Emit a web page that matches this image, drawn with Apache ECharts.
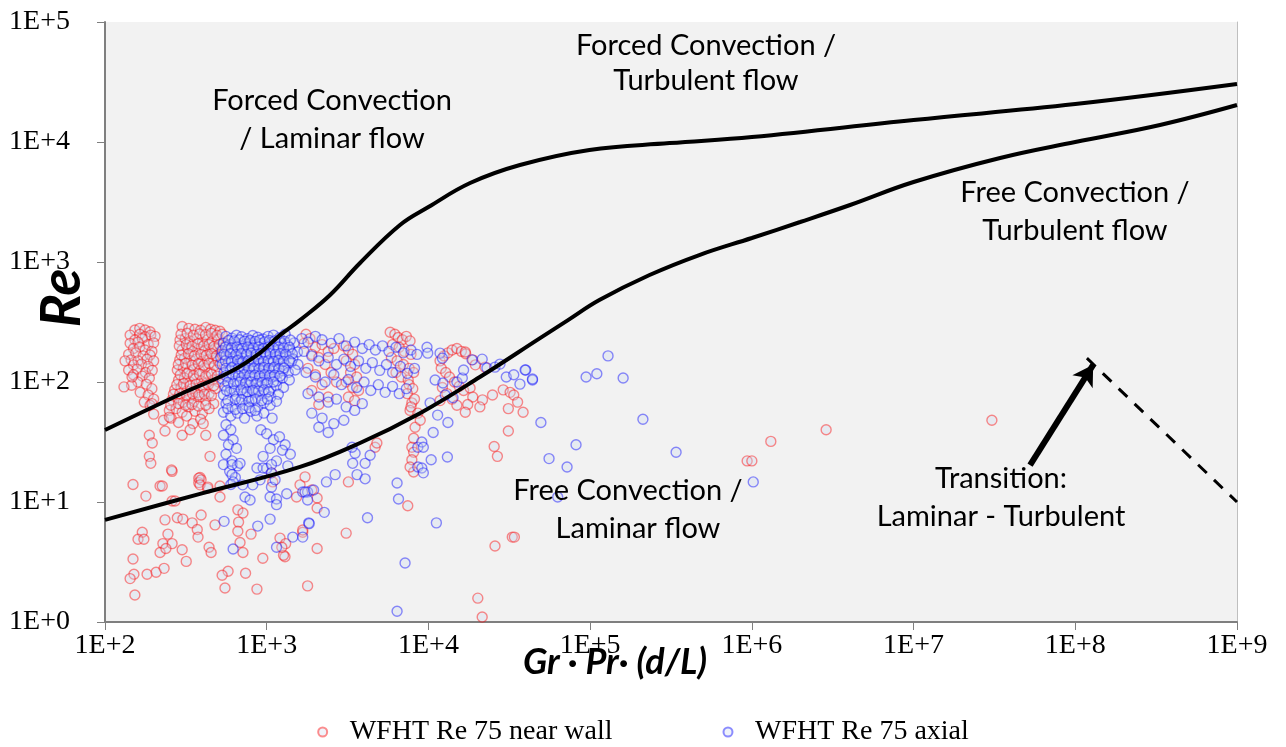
<!DOCTYPE html>
<html>
<head>
<meta charset="utf-8">
<script src="https://cdn.jsdelivr.net/npm/echarts@6/dist/echarts.min.js"></script>
<style>html,body{margin:0;padding:0;background:#fff;}#chart{width:1286px;height:747px;}</style>
</head>
<body>
<div id="chart"></div>
<script>
const xTickLabels = ['1E+2','1E+3','1E+4','1E+5','1E+6','1E+7','1E+8','1E+9'];
const yTickLabels = ['1E+0','1E+1','1E+2','1E+3','1E+4','1E+5'];
const seriesNames = ['WFHT Re 75 near wall','WFHT Re 75 axial'];

const nearWall = [
[153,271],[164,280],[177,271],[190,262],[143,246],[164,250],[177,238],[192,246],[204,240],[153,224],[170,230],[143,210],[160,215],[185,205],[200,212],[150,190],[164,196],[177,185],[195,180],[140,170],[155,175],[172,165],[190,168],[145,153],[160,150],[182,155],[200,150],[150,139],[168,141],[185,135],[140,126],[158,128],[178,120],[196,125],[150,115],[170,112],[188,108],[160,100],[180,96],[146,94],[195,88],[165,82],[185,78],[200,72],[175,68],[190,64],[133,150],[131,91],[147,110],[195,66],[200,54],[188,36],[196,31],[188,24],[192,21],
[300,290],[330,280],[360,275],[390,270],[420,285],[450,275],[480,270],[514,265],
[291,224],[313,230],[336,220],[370,230],[400,215],[430,225],[460,220],[500,228],[540,215],
[300,185],[325,190],[350,180],[380,188],[415,183],[446,178],[480,190],[520,182],
[290,153],[310,158],[340,150],[365,155],[395,148],[430,153],[465,158],[500,150],
[280,126],[305,130],[330,122],[355,128],[385,124],[415,131],[450,120],[490,126],
[285,104],[310,108],[335,100],[360,106],[395,102],[425,98],[465,104],[505,100],
[270,86],[295,90],[320,84],[345,88],[375,82],[410,86],[440,80],[480,88],
[260,71],[282,74],[305,68],[330,72],[355,69],[385,75],[420,70],[470,66],
[250,58],[275,60],[300,56],[328,62],[360,57],[400,55],[440,60],
[230,48],[256,50],[285,46],[320,52],[350,45],[390,49],
[295,250],[322,255],[352,245],[385,252],[418,248],[455,255],[492,245],[530,250],
[288,200],[318,205],[345,198],[375,208],[408,200],[440,205],[472,198],[510,205],[560,200],
[296,168],[328,172],[358,165],[392,170],[422,166],[456,172],[490,165],[530,170],
[284,140],[315,143],[346,138],[378,142],[408,138],[440,143],[475,137],[515,141],
[292,115],[322,117],[352,113],[384,116],[420,112],[456,116],[495,112],
[278,95],[306,97],[336,93],[366,96],[400,92],[435,95],[470,93],
[265,79],[290,80],[318,78],[348,80],[380,78],[412,79],[455,77],
[255,64],[285,66],[315,64],[345,65],[378,63],[420,64],
[250,51],[235,39],[300,36],[336,40],[405,45],[446,24],[420,36],[260,18],[387,16],[380,14.5],[430,13],
[258,18.5],[149,14],[179,11.2],[219,13.6],[226,13.6],[260,10.2],[271,10.2],[380,15.8],[393,15.3],[387,13.9],[433,13.3],
[235,7.1],[280,7.4],[303,7.2],[346,6.7],[372,5.9],[393,7.8],[170,5.6],[160,4.9],[174,4.9],[245,5.4],[228,4.5],[260,4.5],[219,3.8],[238,4.1],[300,4.0],[318,3.2],[149,3.35],[151,2.5],[143,2.3],[182,2.5],[207,2.6],[232,2.8],[153,1.68],[376,5.1],[440,4.2],[453,3.8],
[479,6.45],[514,13.6],[514,11],[663,8.6],[713,8.1],[670,6.8],[663,5.7],[800,5.4],[684,4.6],[713,3.8],[1208,5.0],[1310,4.5],[1297,3.5],[946,3.4],[577,2.65],[530,2.45],[740,2.55],[870,1.88],[552,1.92],[1670,5.6],[1790,2.0],[1607,13.9],[1530,11],[1070,17.5],[1090,14.7],[1270,3.6],[1240,4.2],
[1726,16.2],[1900,12.6],[2050,10.8],[2050,8.9],[1670,5.85],[2050,4.1],[3100,5.5],[3200,14.7],[7450,9.3],[4680,28.6],[4800,31],[7900,28.6],[8100,26],[7900,22.5],[8100,17.8],[7700,19.6],[8270,42],[8100,34],[7900,67],[7700,58],
[1750,250],[1850,230],[1700,210],[2000,195],[2200,205],[1900,170],[2100,160],[2400,180],[2600,190],[2300,140],[1800,130],[2000,115],[2500,120],[2200,95],[2700,100],[1900,85],[2400,75],[2100,65],
[3000,200],[3200,185],[3400,170],[3100,150],[3500,140],[3300,120],[3600,110],[3100,100],[3400,90],[3700,85],[3200,75],[3500,70],
[5800,260],[6200,250],[6500,235],[6900,225],[7300,240],[7700,220],[6000,205],[6600,195],[7100,180],[7800,170],[5900,160],[6400,150],[7000,140],[7600,130],[8100,120],[6300,120],[6800,110],[7500,104],
[7600,95],[8000,88],[7400,80],[8200,72],[7800,62],[8600,55],[8900,48],
[11800,150],[12500,165],[13200,175],[14000,185],[15000,190],[16000,180],[17000,172],[12000,130],[12800,120],[13500,110],[14500,100],[15500,92],[16500,85],[12200,90],[13000,80],[14000,72],[11800,70],[15000,64],
[16900,178],[18800,153],[19500,139],[22400,133],[18100,89],[18800,75],[17500,65],[16900,56],[21600,71],[24900,78],[29000,86],[32000,82],[33700,78],[35600,68],[31200,60],[38500,56],[20800,62],[31200,39],[25500,29],[26700,24],[33000,5.1],[34000,5.1],[25800,4.3],[20200,1.58],[21500,1.1],
[935000,22],[1000000,22],[1310000,32],[2880000,40],[30500000,48]
];

const axial = [
[560,240],[610,232],[650,245],[700,238],[760,230],[820,244],[880,236],[950,228],[1020,240],[1100,246],[1200,234],[1300,250],
[540,210],[590,205],[640,214],[690,200],[740,208],[800,212],[860,204],[920,210],[990,200],[1060,214],[1140,206],[1230,210],[1350,202],[1480,212],
[530,182],[575,188],[620,176],[670,186],[720,180],[780,190],[840,178],[900,185],[960,176],[1030,188],[1110,180],[1190,186],[1280,176],[1400,184],[1550,178],
[520,160],[560,166],[605,156],[655,162],[705,158],[760,168],[815,155],[870,164],[930,158],[1000,166],[1070,155],[1150,162],[1240,158],[1330,166],[1450,156],
[530,140],[580,146],[630,136],[680,144],[735,138],[790,146],[850,135],[910,142],[975,138],[1050,146],[1130,136],[1210,142],[1300,138],[1420,146],[1560,140],
[545,120],[595,126],[645,118],[700,124],[755,120],[815,128],[880,118],[945,125],[1010,120],[1090,127],[1170,118],[1260,124],[1360,120],[1500,126],
[530,106],[585,110],[640,102],[695,108],[750,104],[810,112],[870,102],[935,108],[1000,104],[1080,110],[1160,102],[1250,108],[1380,104],
[550,92],[600,88],[660,95],[720,90],[785,94],[850,88],[920,92],[990,96],[1060,88],[1150,93],[1270,90],
[540,78],[590,82],[650,76],[710,80],[770,75],[840,82],[910,77],[980,80],[1060,75],[1180,79],
[560,66],[610,62],[680,68],[740,64],[810,70],[880,62],[960,67],[1050,64],[1150,69],
[540,56],[600,52],[660,55],[730,50],[800,57],[870,52],[960,55],[1080,50],
[580,222],[630,220],[680,225],[730,218],[790,222],[850,218],[905,224],[970,216],[1040,222],[1120,220],[1200,222],[1290,218],[1400,224],
[555,195],[605,192],[655,196],[705,190],[765,196],[825,192],[890,196],[955,190],[1020,195],[1100,192],[1180,196],[1270,192],[1380,195],
[545,170],[595,172],[645,169],[695,172],[750,170],[800,174],[860,170],[915,172],[985,170],[1050,172],[1130,170],[1210,172],[1310,170],[1440,172],
[555,150],[605,148],[660,151],[710,147],[770,150],[830,148],[890,151],[955,148],[1020,150],[1100,148],[1180,151],[1270,148],[1380,150],
[560,130],[610,132],[665,129],[720,132],[775,130],[835,131],[900,129],[960,132],[1030,130],[1110,132],[1190,129],[1280,131],
[560,113],[615,115],[670,112],[725,115],[785,113],[845,114],[905,112],[970,115],[1045,113],[1120,114],[1210,112],
[575,99],[625,97],[685,100],[740,98],[800,100],[865,97],[935,99],[1010,98],[1100,100],
[565,85],[630,84],[695,86],[755,83],[820,85],[890,84],[960,86],[1030,83],
[575,70],[640,72],[700,71],[775,69],[850,72],[930,70],[1010,72],
[575,60],[640,59],[710,60],[780,61],[850,58],
[560,44],[600,40],[540,36],[620,33],[580,30],[650,28],[560,25],[610,22],[660,20],[590,18],[640,16],[600,14],
[920,40],[1000,37],[1100,33],[1200,35],[1300,30],[1050,28],[1250,27],[1400,25],[950,24],[1150,22],[1350,20],[1000,19],
[540,20.5],[610,20.5],[684,21],[610,16.9],[620,14.7],[870,19.2],[950,19.2],[1070,20.5],[1070,17.5],[910,15.3],[820,13.9],[710,13.9],[1070,13.3],[1127,15.3],[1049,11],[1150,10.6],[1150,9.5],[1330,11.7],[1670,12.1],[1790,12.1],[734,11],[789,10.4],[545,6.9],[880,6.3],[1049,7.2],[620,4.06],[1150,4.2],[1450,5.1],[1670,5.1],[1820,6.7],
[2270,8.2],[1726,12.1],[1790,10.4],[1950,12.6],[2340,14.7],[2650,16.9],[4200,7.4],[7170,3.1],[6400,1.23],[3620,16.9],[4060,15.6],[3400,21],[4060,21],[4360,24.5],[3520,25.5],[3370,28.6],[6400,14.4],[6530,10.6],[8600,28.6],[8600,19.6],[1830,6.6],
[9800,195],[9900,174],[11800,174],[12200,158],[11000,104],[12300,98],[12700,78],[14200,74],[15000,100],[16200,108],[16500,126],[18600,153],[21500,155],[23000,131],[25800,133],[27700,141],[30300,110],[33700,115],[36800,96],[40000,126],[44000,104],[10240,67],[11400,53],[13200,46],[10700,38],[9100,31.6],[9300,28.6],[13100,23.7],[10400,22.5],[9100,19.2],[9300,17.5],[11200,6.7],
[1650,230],[1800,215],[2000,240],[2200,225],[2500,210],[2800,230],[3100,200],[3500,215],[3900,190],[4300,205],[4700,185],[5200,200],[5700,180],[6300,195],[7000,175],[7800,185],[8500,170],
[1700,180],[1900,165],[2100,150],[2400,160],[2700,140],[3000,155],[3300,135],[3700,150],[4100,130],[4500,145],[5000,125],[5500,140],[6000,120],[6700,135],[7400,118],[8200,130],
[1750,120],[2000,110],[2300,100],[2600,115],[2900,95],[3200,105],[3600,90],[4000,100],[4400,85],[4900,95],[5400,82],[6000,92],[6600,80],[7300,88],
[1800,80],[2100,75],[2400,68],[2700,72],[3100,62],[3500,58],[3900,66],[2200,50],[2600,45],[3000,48],[1900,55],[2400,38],[2100,42],
[129000,165],[94400,110],[110000,117],[160000,108],[212000,49],[340000,26],[81800,30],[55700,23],[72000,19.6],[49600,46],[63000,11],[39600,126],[44000,106],[1020000,14.7]
];

const upperBoundary = [[100,39.8],[303,81],[593,121],[910,175],[1208,246],[1607,328],[2465,531],[3776,981],[6670,2035],[10000,2870],[18100,4550],[36800,6430],[99000,8580],[310000,9790],[1000000,11000],[10000000,15250],[100000000,20700],[1000000000,30400]];
const lowerBoundary = [[100,7.1],[387,11.7],[1607,19.6],[3776,31],[8870,55],[20800,110],[49000,232],[73000,328],[114000,482],[233000,779],[473000,1143],[1000000,1585],[1990000,2154],[4050000,2985],[10000000,4640],[34300000,7360],[100000000,10000],[334000000,13860],[1000000000,20330]];
const transitionLine = [[118000000,158],[1000000000,10]];
const transitionArrow = [[52500000,20.3],[129000000,139]];

const annotations = [
  {text:'Forced Convection', x:332, y:101},
  {text:'/ Laminar flow', x:332, y:139},
  {text:'Forced Convection /', x:706, y:46},
  {text:'Turbulent flow', x:706, y:81},
  {text:'Free Convection /', x:1075, y:193},
  {text:'Turbulent flow', x:1075, y:231},
  {text:'Free Convection /', x:628, y:491},
  {text:'Laminar flow', x:638, y:529},
  {text:'Transition:', x:1001, y:479},
  {text:'Laminar - Turbulent', x:1001, y:517}
];

const chart = echarts.init(document.getElementById('chart'));
const tickFont = {fontFamily:'Liberation Serif', fontSize:28, color:'#000'};
const scatterStyle = (c) => ({color:'rgba(205,218,240,0.4)', borderColor:c, borderWidth:1.4});

chart.setOption({
  animation:false,
  backgroundColor:'#ffffff',
  grid:{left:105, right:49, top:22, bottom:125, containLabel:false, outerBoundsMode:'none', show:true, backgroundColor:'#f2f2f2', borderWidth:0},
  xAxis:{type:'log', logBase:10, min:100, max:1e9,
    name:'Gr · Pr· (d/L)', nameLocation:'middle', nameGap:22, nameMoveOverlap:false,
    nameTextStyle:{fontFamily:'Lato', fontWeight:'bold', fontStyle:'italic', fontSize:36, color:'#000', padding:[0,112,0,0]},
    axisLine:{show:true, lineStyle:{color:'#7f7f7f', width:2}},
    axisTick:{show:true, length:8, lineStyle:{color:'#7f7f7f', width:1}},
    axisLabel:Object.assign({margin:10, formatter:(v)=>xTickLabels[Math.round(Math.log10(v))-2]}, tickFont),
    splitLine:{show:false}, minorTick:{show:false}},
  yAxis:[{type:'log', logBase:10, min:1, max:1e5,
    axisLine:{show:true, lineStyle:{color:'#7f7f7f', width:2}},
    axisTick:{show:true, length:8, lineStyle:{color:'#7f7f7f', width:1}},
    axisLabel:Object.assign({margin:35, formatter:(v)=>yTickLabels[Math.round(Math.log10(v))]}, tickFont),
    splitLine:{show:false}},
   {type:'log', logBase:10, min:1, max:1e5, position:'right',
    axisLine:{show:true, lineStyle:{color:'#bfbfbf', width:1}},
    axisTick:{show:false}, axisLabel:{show:false}, splitLine:{show:false}}],
  legend:{bottom:-4, left:'center', padding:[5,5,5,13], itemGap:110, itemWidth:44, itemHeight:9, icon:'circle',
    textStyle:{fontFamily:'Liberation Serif', fontSize:28, color:'#000'},
    data:seriesNames},
  graphic: annotations.map(a => ({type:'text', x:a.x, y:a.y, z:100,
    style:{text:a.text, fontFamily:'Lato', fontSize:29, fill:'#000', align:'center', verticalAlign:'middle'}}))
    .concat([{type:'text', x:62, y:298, rotation:Math.PI/2, z:100,
      style:{text:'Re', fontFamily:'Lato', fontWeight:'bold', fontStyle:'italic', fontSize:56, fill:'#000', align:'center', verticalAlign:'middle'}}]),
  series:[
    {name:seriesNames[0], type:'scatter', data:nearWall, symbol:'circle', symbolSize:10, itemStyle:scatterStyle('rgba(255,0,0,0.55)'), z:3},
    {name:seriesNames[1], type:'scatter', data:axial, symbol:'circle', symbolSize:10, itemStyle:scatterStyle('rgba(0,0,255,0.55)'), z:4},
    {type:'line', data:upperBoundary, smooth:0.4, symbol:'none', lineStyle:{color:'#000', width:4}, z:5},
    {type:'line', data:lowerBoundary, smooth:0.4, symbol:'none', lineStyle:{color:'#000', width:4}, z:5},
    {type:'line', data:transitionLine, symbol:'none', lineStyle:{color:'#000', width:3, type:[12,10]}, z:5},
    {type:'line', data:[], symbol:'none', z:6,
      markLine:{silent:true, symbol:['none','arrow'], symbolSize:[18,20], label:{show:false},
        lineStyle:{color:'#000', width:6, type:'solid'},
        data:[[{coord:transitionArrow[0]},{coord:transitionArrow[1]}]]}}
  ]
});
</script>
</body>
</html>
